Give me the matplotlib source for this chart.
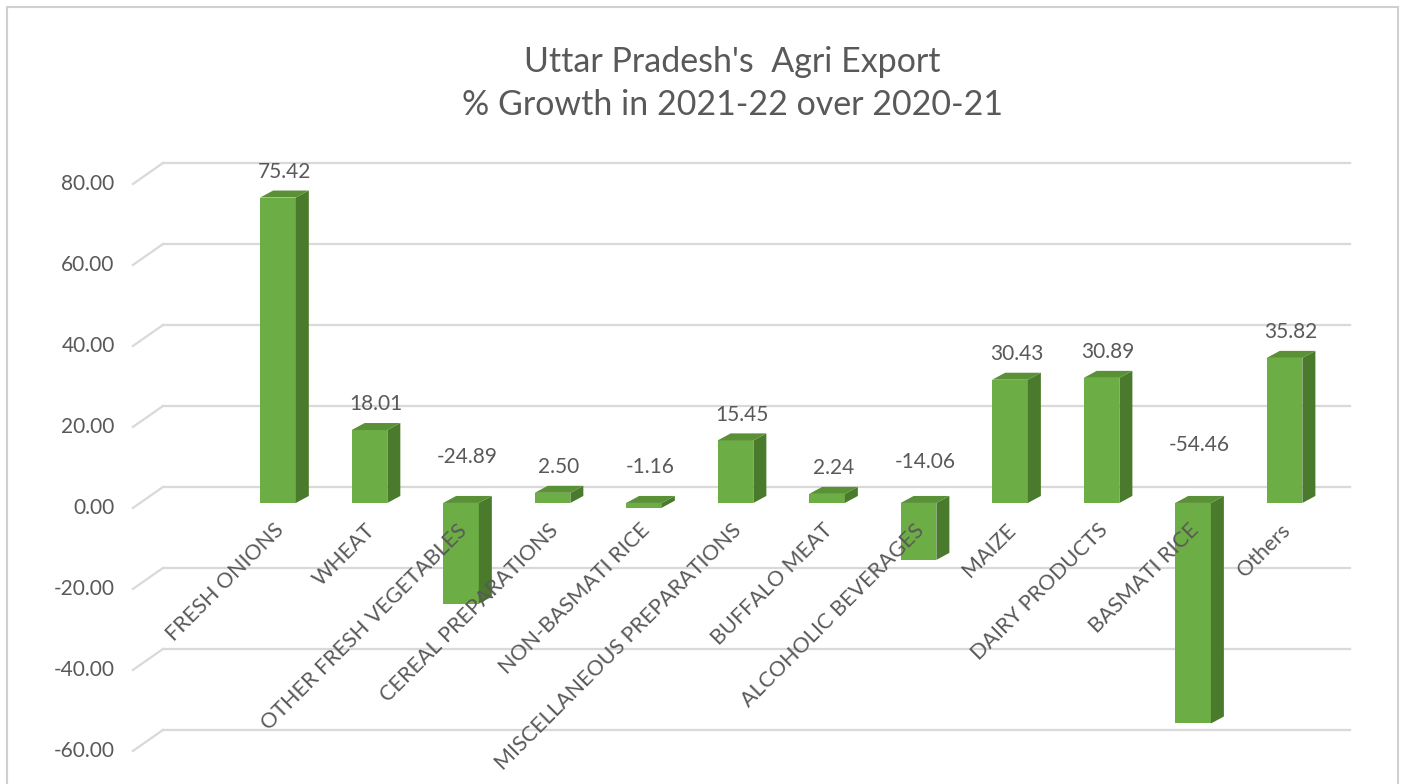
import numpy as np
import matplotlib.pyplot as plt
from matplotlib.patches import Polygon, Rectangle

# Data
categories = ["FRESH ONIONS", "WHEAT", "OTHER FRESH VEGETABLES", "CEREAL PREPARATIONS",
              "NON-BASMATI RICE", "MISCELLANEOUS PREPARATIONS", "BUFFALO MEAT",
              "ALCOHOLIC BEVERAGES", "MAIZE", "DAIRY PRODUCTS", "BASMATI RICE", "Others"]
growth = [75.42, 18.01, -24.89, 2.50, -1.16, 15.45, 2.24, -14.06, 30.43, 30.89, -54.46, 35.82]
y_ticks = [-60, -40, -20, 0, 20, 40, 60, 80]

title = "Uttar Pradesh's  Agri Export\n% Growth in 2021-22 over 2020-21"

# Colours
front_c = "#6DAD45"
side_c = "#4A7A2B"
top_c = "#5A9137"
grid_c = "#D9D9D9"
text_c = "#595959"

plt.rcParams['font.family'] = ['Lato', 'DejaVu Sans']

fig = plt.figure(figsize=(14.09, 7.84), dpi=100)
ax = fig.add_axes([0, 0, 1, 1])
ax.set_xlim(-3.038, 12.36)
ax.set_ylim(-69.4, 124.2)
ax.axis("off")

# fake 3D geometry (data units)
w = 0.39           # bar width
dx, dy = 0.142, 1.73   # bar depth offset
gb, gf = 3.95, -1.23   # back / front gridline offsets
x_back_l, x_back_r, x_front = -1.257, 11.72, -1.585

# gridlines with the little floor diagonals
for t in y_ticks:
    ax.plot([x_back_l, x_back_r], [t + gb, t + gb], color=grid_c, lw=1.6, zorder=1)
    ax.plot([x_front, x_back_l], [t + gf, t + gb], color=grid_c, lw=1.6, zorder=1)
    ax.text(x_front - 0.2, t + gf, f"{t:.2f}", ha="right", va="center",
            fontsize=15, color=text_c)

x = np.arange(len(categories))

# bars
ax.bar(x, growth, width=w, color=front_c, zorder=3, linewidth=0)
for c, v in zip(x, growth):
    x0, x1 = c - w / 2, c + w / 2
    side = [(x1, 0), (x1 + dx, dy), (x1 + dx, v + dy), (x1, v)]
    ax.add_patch(Polygon(side, closed=True, facecolor=side_c, edgecolor="none", zorder=3))
    top = max(v, 0)
    topf = [(x0, top), (x1, top), (x1 + dx, top + dy), (x0 + dx, top + dy)]
    ax.add_patch(Polygon(topf, closed=True, facecolor=top_c, edgecolor="none", zorder=3))

    # value labels
    if v >= 0:
        ly = v + dy + 4.6
    else:
        ly = 8.8 + 0.1 * abs(v)
    ax.text(c + dx / 2, ly, f"{v:.2f}", ha="center", va="center",
            fontsize=15, color=text_c, zorder=5)

# category labels
for c, name in zip(x, categories):
    ax.text(c + 0.03, -6.0, name, rotation=45, rotation_mode="anchor",
            ha="right", va="center", fontsize=15.5, color=text_c, zorder=5)

# title
fig.text(0.52, 0.893, title, ha="center", va="center", fontsize=24.5,
         color=text_c, linespacing=1.42)

# chart border
fig.patches.append(Rectangle((7 / 1409, -0.01), (1398 - 7) / 1409, 1 - 7 / 784 + 0.01,
                             transform=fig.transFigure, fill=False,
                             edgecolor="#D0D0D0", lw=1.5))

fig.savefig("out.png", dpi=100)
